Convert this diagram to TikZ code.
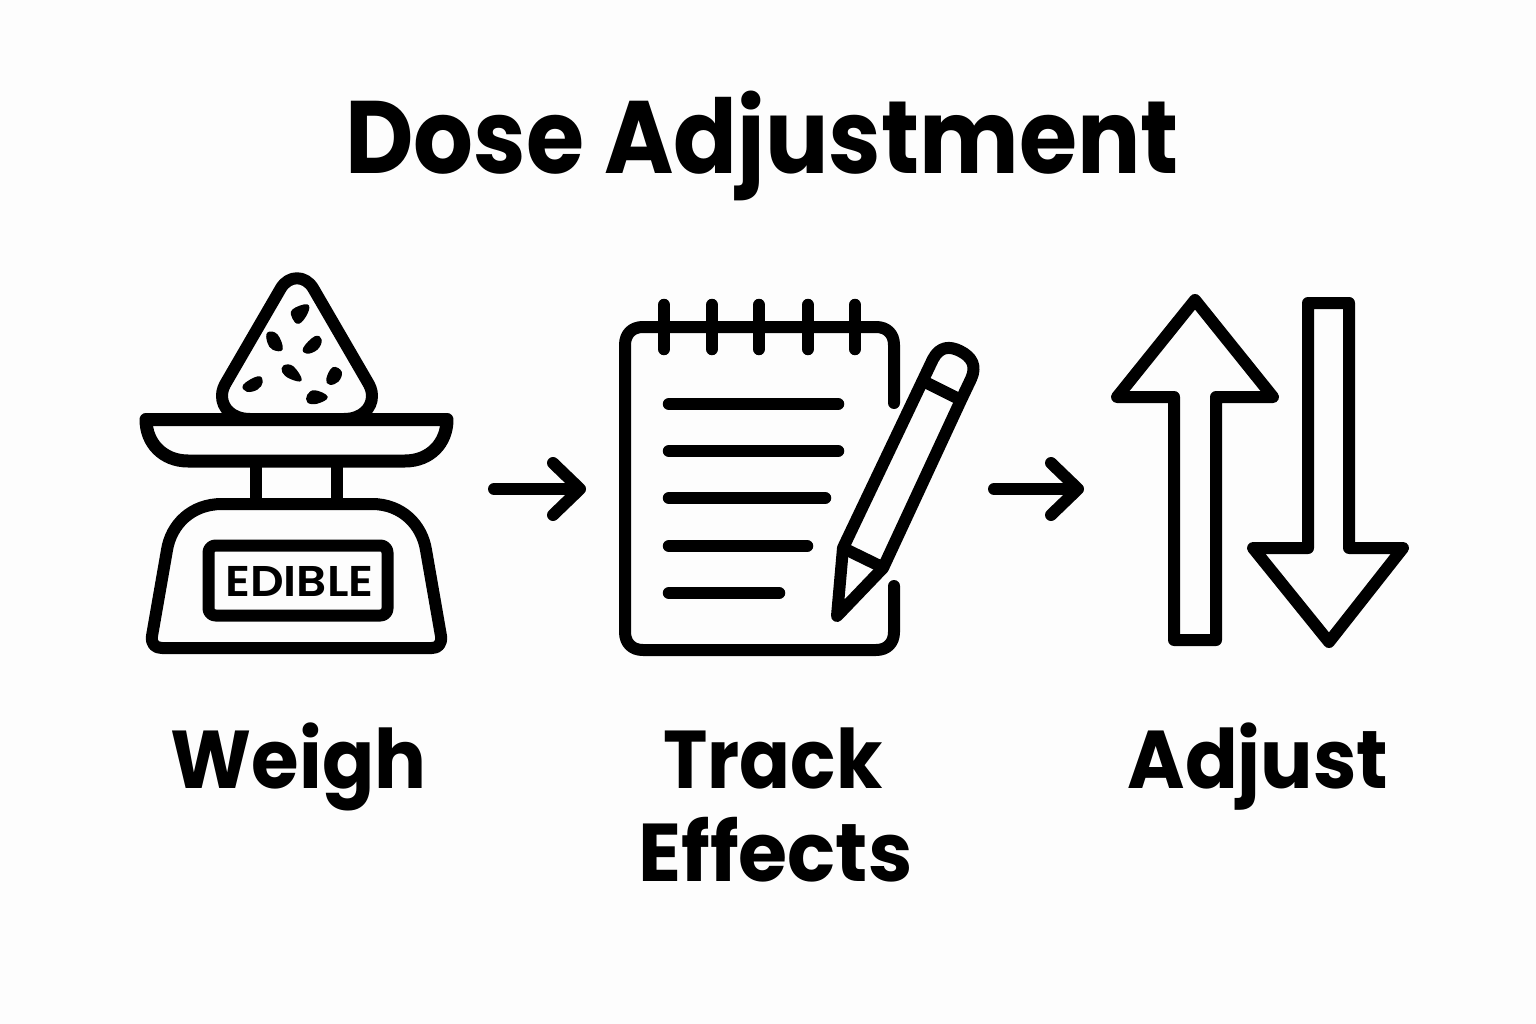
\documentclass[tikz,border=0pt]{standalone}
\usepackage{fontspec}
\setmainfont{Poppins}
\newfontfamily\headfont{Poppins SemiBold}
\usetikzlibrary{arrows.meta}
\definecolor{ink}{HTML}{000000}
\definecolor{paper}{HTML}{FDFDFD}
\tikzset{
  icon/.style={draw=ink,line width=12pt,line cap=round,line join=round},
  ruled/.style={draw=ink,line width=12.5pt,line cap=round},
  seed/.style={fill=ink,draw=ink,line width=1.5pt,line join=round},
  link/.style={draw=ink,line width=12pt,line cap=round,line join=round,
    -{Straight Barb[length=27pt,width=52pt,round,line width=12pt]}},
  heading/.style={font=\bfseries\fontsize{103}{103}\selectfont,text=ink,inner sep=0pt,anchor=base},
  caption/.style={font=\bfseries\fontsize{82}{82}\selectfont,text=ink,inner sep=0pt,anchor=base},
}
\begin{document}
\begin{tikzpicture}[x=1pt,y=-1pt]
\path[fill=paper] (0,0) rectangle (1536,1024);
\useasboundingbox (0,0) rectangle (1536,1024);
\node[heading] (title) at (762,174) {\scalebox{.914}[1]{Dose Adjustment}};
% scale
\draw[icon] (250,419) .. controls (232,419) and (222,408) .. (222,396) .. controls (222,390) and (224,386) .. (227,381)
  -- (281,288) .. controls (289,275) and (305,275) .. (313,288) -- (367,381)
  .. controls (370,386) and (372,390) .. (372,396) .. controls (372,408) and (362,419) .. (344,419);
\draw[icon,line width=13pt] (146,419.5) -- (447,419.5) .. controls (447,443) and (430,461) .. (405,461) -- (188,461) .. controls (163,461) and (146,443) .. (146,419.5) -- cycle;
\draw[icon,line cap=butt] (256,461) -- (256,504);
\draw[icon,line cap=butt] (337,461) -- (337,504);
\draw[icon] (222,504) -- (372,504) .. controls (402,504) and (422,525) .. (426,550) -- (441,636) .. controls (442,644) and (438,648) .. (432,648)
  -- (162,648) .. controls (155,648) and (151,644) .. (152,636) -- (167,550) .. controls (171,525) and (191,504) .. (222,504) -- cycle;
\draw[icon,rounded corners=7pt] (208.5,545.5) rectangle (387.5,615.5);
\node[text=ink,inner sep=0pt,anchor=base,font=\headfont\fontsize{43}{43}\selectfont] (edible) at (299.5,596) {\scalebox{1.09}[1]{EDIBLE}};
% seeds
\filldraw[seed] plot[smooth cycle,tension=.7] coordinates {(293,310) (307,305) (307,313) (299,323) (293,318)};
\filldraw[seed] plot[smooth cycle,tension=.7] coordinates {(268,333) (277,335) (282,349) (273,349) (268,342)};
\filldraw[seed] plot[smooth cycle,tension=.7] coordinates {(315,337) (321,340) (317,349) (307,353) (304,348)};
\filldraw[seed] plot[smooth cycle,tension=.7] coordinates {(284,366) (293,367) (301,380) (290,378) (283,372)};
\filldraw[seed] plot[smooth cycle,tension=.7] coordinates {(244,385) (258,377) (262,382) (257,389) (247,391)};
\filldraw[seed] plot[smooth cycle,tension=.7] coordinates {(333,368) (341,372) (338,381) (330,384) (327,379)};
\filldraw[seed] plot[smooth cycle,tension=.7] coordinates {(315,391) (327,397) (317,403) (308,402) (308,395)};
% notebook
\draw[icon] (894,403) -- (894,345) .. controls (894,334) and (887,327) .. (876,327) -- (643,327)
  .. controls (632,327) and (625,334) .. (625,345) -- (625,632) .. controls (625,643) and (632,650) .. (643,650)
  -- (876,650) .. controls (887,650) and (894,643) .. (894,632) -- (894,586);
\foreach \rx in {664,712,759,808,855} \draw[ruled] (\rx,305) -- (\rx,349);
\draw[ruled] (669,404) -- (838,404);
\draw[ruled] (669,451) -- (838,451);
\draw[ruled] (669,498) -- (825,498);
\draw[ruled] (669,546) -- (807,546);
\draw[ruled] (669,593) -- (779,593);
% pencil
\draw[icon] (837,616) -- (843,548) -- (923,380) -- (933,359) .. controls (940,346) and (950,346) .. (960,351) .. controls (972,357) and (977,366) .. (971,379) -- (961,400) -- (883,568) -- cycle;
\draw[icon,line cap=butt] (925,382) -- (963,401);
\draw[icon,line cap=butt] (843,548) -- (884,568);
% arrows
\draw[icon] (1195,300) -- (1273,397) -- (1216,397) -- (1216,640) -- (1174,640) -- (1174,397) -- (1117,397) -- cycle;
\draw[icon] (1308,303) -- (1349,303) -- (1349,548) -- (1403,548) -- (1329,642) -- (1253,548) -- (1308,548) -- cycle;
% connectors
\coordinate (a1s) at (494,489); \coordinate (a1e) at (586,489);
\coordinate (a2s) at (994,489); \coordinate (a2e) at (1084,489);
\draw[link] (a1s) -- (a1e);
\draw[link] (a2s) -- (a2e);
% labels
\node[caption] (weigh) at (298.5,788) {\scalebox{.94}[1]{Weigh}};
\node[caption] (track) at (773,788) {\scalebox{.915}[1]{Track}};
\node[caption] (effects) at (775.5,881) {\scalebox{.97}[1]{Effects}};
\node[caption] (adjust) at (1258,788) {\scalebox{.95}[1]{Adjust}};
\end{tikzpicture}
\end{document}
